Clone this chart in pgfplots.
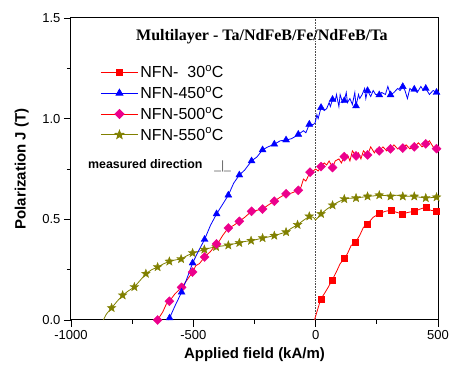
\documentclass[border=0pt]{standalone}
\usepackage{pgfplots}
\pgfplotsset{compat=1.18}
\usepackage{fontspec}
\setmainfont{Liberation Sans}
\newfontfamily\tnr{Liberation Serif}
\usetikzlibrary{calc,plotmarks}
\definecolor{olv}{RGB}{128,128,0}
\pgfdeclareplotmark{fstar}{%
 \pgfpathmoveto{\pgfpointpolar{90}{\pgfplotmarksize}}%
 \pgfpathlineto{\pgfpointpolar{126}{0.42\pgfplotmarksize}}%
 \pgfpathlineto{\pgfpointpolar{162}{\pgfplotmarksize}}%
 \pgfpathlineto{\pgfpointpolar{198}{0.42\pgfplotmarksize}}%
 \pgfpathlineto{\pgfpointpolar{234}{\pgfplotmarksize}}%
 \pgfpathlineto{\pgfpointpolar{270}{0.42\pgfplotmarksize}}%
 \pgfpathlineto{\pgfpointpolar{306}{\pgfplotmarksize}}%
 \pgfpathlineto{\pgfpointpolar{342}{0.42\pgfplotmarksize}}%
 \pgfpathlineto{\pgfpointpolar{18}{\pgfplotmarksize}}%
 \pgfpathlineto{\pgfpointpolar{54}{0.42\pgfplotmarksize}}%
 \pgfpathclose\pgfusepathqfillstroke}
\begin{document}
\begin{tikzpicture}
\begin{axis}[name=ax, scale only axis, width=367pt, height=302pt,
 xmin=-1000, xmax=500, ymin=0, ymax=1.5,
 axis line style={line width=1pt},
 tick pos=left, tick align=outside,
 major tick length=7pt, minor tick length=4pt,
 tick style={line width=0.8pt, black},
 xtick={-1000,-500,0,500}, xticklabels={-1000,-500,0,500},
 minor xtick={-750,-250,250},
 ytick={0,0.5,1,1.5}, yticklabels={0.0,0.5,1.0,1.5},
 minor ytick={0.25,0.75,1.25},
 ticklabel style={font=\fontsize{13}{15}\selectfont},
 xlabel={\bfseries Applied field (kA/m)},
 ylabel={\bfseries Polarization J (T)},
 label style={font=\fontsize{15}{18}\selectfont},
 xlabel style={at={(axis description cs:0.5,-0.116)}, anchor=center},
 ylabel style={at={(axis description cs:-0.134,0.5)}, anchor=center},
 legend image code/.code={\draw[#1, mark=none] (0pt,0pt) -- (37pt,0pt); \path[#1] plot coordinates {(18.5pt,0pt)};},
 legend style={at={(axis description cs:0.08,0.85)}, anchor=north west, draw=none, fill=none,
   font=\fontsize{16}{19}\selectfont, row sep=3pt, inner sep=0pt},
 legend cell align=left,
 clip=false,
]
\addlegendimage{red, line width=0.8pt, mark=square*, mark size=3pt, mark options={solid, fill=red}}
\addlegendentry{NFN-~~30$^{\mathrm{o}}$C}
\addlegendimage{blue, line width=0.8pt, mark=triangle*, mark size=4pt, mark options={solid, fill=blue}}
\addlegendentry{NFN-450$^{\mathrm{o}}$C}
\addlegendimage{red, line width=0.8pt, mark=square*, mark size=3.2pt, mark options={solid, fill=magenta, draw=magenta, rotate=45}}
\addlegendentry{NFN-500$^{\mathrm{o}}$C}
\addlegendimage{olv, line width=0.8pt, mark=fstar, mark size=4.5pt, mark options={solid, fill=olv}}
\addlegendentry{NFN-550$^{\mathrm{o}}$C}

\addplot[forget plot, densely dotted, black!70, line width=0.6pt] coordinates {(0,0) (0,1.5)};

% NFN-550 line
\addplot[forget plot, olv, line width=0.8pt] coordinates {
(-868,0) (-855,0.03) (-834,0.06) (-810,0.095) (-789,0.123) (-765,0.145) (-741,0.164) (-715,0.2) (-694,0.23) (-670,0.25) (-646,0.263) (-620,0.28) (-598,0.291) (-575,0.298) (-550,0.303) (-525,0.32) (-503,0.333) (-480,0.34) (-455,0.35) (-430,0.358) (-407,0.363) (-380,0.368) (-357,0.371) (-335,0.378) (-312,0.383) (-290,0.39) (-264,0.394) (-240,0.4) (-217,0.407) (-195,0.412) (-169,0.419) (-145,0.428) (-121,0.437) (-100,0.455) (-74,0.473) (-50,0.495) (-26,0.515) (-10,0.51) (0,0.497) (10,0.51) (22,0.527) (45,0.55) (69,0.57) (90,0.585) (117,0.601) (140,0.605) (165,0.606) (190,0.61) (212,0.614) (235,0.616) (260,0.62) (285,0.618) (306,0.614) (330,0.62) (356,0.614) (380,0.615) (403,0.614) (425,0.61) (450,0.606) (475,0.608) (494,0.61) (500,0.612)};
\addplot[forget plot, only marks, mark=fstar, mark size=4.5pt, olv, mark options={fill=olv}] coordinates {
(-834,0.06) (-789,0.123) (-741,0.164) (-694,0.23) (-646,0.263) (-598,0.291) (-550,0.303) (-503,0.333) (-455,0.35) (-407,0.363) (-357,0.371) (-312,0.383) (-264,0.394) (-217,0.407) (-169,0.419) (-121,0.437) (-74,0.473) (-26,0.515) (22,0.527) (69,0.57) (117,0.601) (165,0.606) (212,0.614) (260,0.62) (306,0.614) (356,0.614) (403,0.614) (450,0.606) (494,0.61)};

% NFN-500 line
\addplot[forget plot, red, line width=0.8pt] coordinates {
(-655,0) (-646,0.0) (-625,0.04) (-610,0.08) (-598,0.093) (-575,0.13) (-548,0.162) (-525,0.2) (-503,0.238) (-490,0.27) (-475,0.28) (-454,0.313) (-430,0.34) (-405,0.378) (-395,0.39) (-380,0.42) (-357,0.457) (-335,0.47) (-312,0.49) (-290,0.51) (-262,0.54) (-240,0.545) (-217,0.551) (-195,0.57) (-169,0.59) (-145,0.61) (-121,0.627) (-100,0.63) (-71,0.644) (-60,0.66) (-50,0.7) (-40,0.69) (-23,0.734) (-10,0.74) (0,0.75) (10,0.74) (22,0.762) (35,0.78) (45,0.77) (55,0.79) (69,0.757) (80,0.79) (95,0.80) (105,0.78) (117,0.811) (130,0.82) (140,0.79) (150,0.84) (165,0.815) (175,0.83) (185,0.80) (195,0.84) (212,0.82) (225,0.86) (240,0.83) (250,0.85) (260,0.84) (275,0.86) (290,0.84) (306,0.85) (320,0.87) (335,0.85) (356,0.854) (370,0.87) (385,0.85) (403,0.86) (420,0.88) (435,0.86) (450,0.875) (465,0.89) (480,0.86) (494,0.851) (500,0.86)};
\addplot[forget plot, only marks, mark=square*, mark size=3.2pt, magenta, mark options={fill=magenta, rotate=45}] coordinates {
(-646,0.0) (-598,0.093) (-548,0.162) (-503,0.238) (-454,0.313) (-405,0.378) (-357,0.457) (-312,0.49) (-262,0.54) (-217,0.551) (-169,0.59) (-121,0.627) (-71,0.644) (-23,0.734) (22,0.762) (69,0.757) (117,0.811) (165,0.815) (212,0.82) (260,0.84) (306,0.85) (356,0.854) (403,0.86) (450,0.875) (494,0.851)};

% NFN-450
\addplot[forget plot, blue, line width=0.8pt] coordinates {
(-604,0) (-597,0.01) (-575,0.07) (-548,0.138) (-525,0.21) (-503,0.283) (-480,0.34) (-454,0.40) (-430,0.47) (-405,0.527) (-380,0.575) (-357,0.62) (-335,0.68) (-312,0.72) (-290,0.745) (-262,0.79) (-240,0.81) (-217,0.845) (-195,0.86) (-169,0.873) (-145,0.89) (-121,0.894) (-100,0.9) (-85,0.91) (-71,0.922) (-50,0.94) (-40,0.93) (-26,0.972) (-10,0.97) (-2,0.98) (5,1.02) (10,1.0) (22,1.055) (35,1.04) (45,1.05) (55,1.08) (60,1.06) (69,1.095) (80,1.09) (85,1.12) (95,1.06) (100,1.12) (110,1.08) (117,1.089) (125,1.13) (130,1.08) (140,1.10) (150,1.07) (160,1.13) (165,1.063) (175,1.12) (180,1.10) (190,1.12) (200,1.15) (205,1.10) (212,1.139) (225,1.11) (235,1.14) (245,1.12) (260,1.118) (270,1.13) (285,1.12) (295,1.16) (306,1.118) (320,1.13) (335,1.15) (345,1.14) (356,1.159) (365,1.14) (375,1.10) (385,1.15) (395,1.14) (403,1.146) (415,1.13) (430,1.16) (440,1.14) (450,1.15) (465,1.12) (480,1.14) (494,1.13) (500,1.135)};
\addplot[forget plot, only marks, mark=triangle*, mark size=4pt, blue, mark options={fill=blue}] coordinates {
(-597,0.01) (-548,0.138) (-503,0.283) (-454,0.40) (-405,0.527) (-357,0.62) (-312,0.72) (-262,0.79) (-217,0.845) (-169,0.873) (-121,0.894) (-71,0.922) (-26,0.972) (22,1.055) (69,1.095) (117,1.089) (165,1.063) (212,1.139) (260,1.118) (306,1.118) (356,1.159) (403,1.146) (450,1.15) (494,1.13)};

% NFN-30
\addplot[forget plot, red, line width=0.8pt] coordinates {
(-5,0) (0,0.02) (10,0.06) (21,0.104) (35,0.13) (50,0.16) (68,0.20) (85,0.24) (100,0.28) (117,0.305) (130,0.33) (145,0.37) (163,0.386) (180,0.42) (195,0.46) (212,0.478) (235,0.51) (259,0.528) (285,0.54) (308,0.545) (330,0.535) (354,0.527) (380,0.535) (403,0.54) (425,0.55) (450,0.56) (470,0.545) (494,0.54) (500,0.545)};
\addplot[forget plot, only marks, mark=square*, mark size=3pt, red, mark options={fill=red}] coordinates {
(21,0.104) (68,0.20) (117,0.305) (163,0.386) (212,0.478) (259,0.528) (308,0.545) (354,0.527) (403,0.54) (450,0.56) (494,0.54)};

\node[font=\tnr\bfseries\fontsize{16}{19}\selectfont] at (axis description cs:0.52,0.938) {Multilayer - Ta/NdFeB/Fe/NdFeB/Ta};
\node[font=\bfseries\fontsize{12.4}{15}\selectfont, anchor=west, inner sep=0pt] at (axis description cs:0.046,0.517) {measured direction};
\node[font=\fontsize{12}{14}\selectfont, anchor=west, inner sep=0pt, text=black!60] at (axis description cs:0.39,0.51) {\_|\_};
\end{axis}
\pgfresetboundingbox
\path[use as bounding box] ($(ax.south west)+(-71pt,-46pt)$) rectangle ($(ax.north east)+(11pt,18pt)$);
\end{tikzpicture}
\end{document}
